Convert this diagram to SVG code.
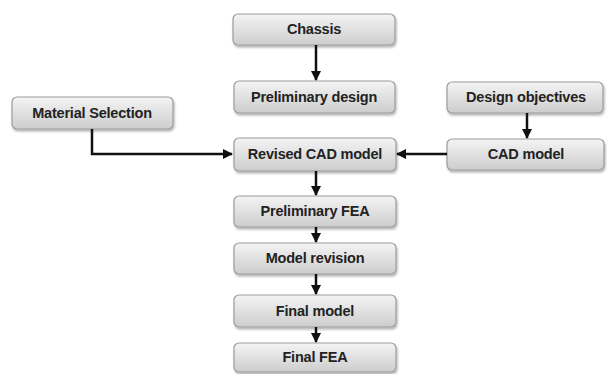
<svg xmlns="http://www.w3.org/2000/svg" width="607" height="374" viewBox="0 0 607 374">
<defs>
<linearGradient id="g" x1="0" y1="0" x2="0" y2="1">
<stop offset="0" stop-color="#f4f4f4"/>
<stop offset="1" stop-color="#cdcdcd"/>
</linearGradient>
<filter id="sh" x="-10%" y="-20%" width="120%" height="150%">
<feDropShadow dx="1" dy="2" stdDeviation="1.2" flood-color="#000" flood-opacity="0.3"/>
</filter>
<marker id="ah" markerWidth="10" markerHeight="10" refX="9" refY="5" orient="auto" markerUnits="userSpaceOnUse">
<path d="M0,0 L10,5 L0,10 Z" fill="#111"/>
</marker>
</defs>
<style>
.box{fill:url(#g);stroke:#9c9c9c;stroke-width:1.2;filter:url(#sh)}
.t{font-family:"Liberation Sans",Arial,sans-serif;font-weight:bold;font-size:14.5px;fill:#222;text-anchor:middle;letter-spacing:-0.2px}
.c{fill:none;stroke:#111;stroke-width:2.5;marker-end:url(#ah)}
</style>
<rect width="607" height="374" fill="#fff"/>
<g id="chassis"><rect class="box" x="233" y="14" width="162" height="31" rx="5"/><text class="t" x="314" y="34">Chassis</text></g>
<g id="preliminary-design"><rect class="box" x="234" y="81" width="161" height="32" rx="5"/><text class="t" x="314" y="102">Preliminary design</text></g>
<g id="material-selection"><rect class="box" x="12" y="97" width="161" height="32" rx="5"/><text class="t" x="92" y="118">Material Selection</text></g>
<g id="design-objectives"><rect class="box" x="447" y="82" width="156" height="31" rx="5"/><text class="t" x="526" y="102">Design objectives</text></g>
<g id="revised-cad-model"><rect class="box" x="234" y="138" width="162" height="33" rx="5"/><text class="t" x="315" y="159">Revised CAD model</text></g>
<g id="cad-model"><rect class="box" x="447" y="139" width="157" height="31" rx="5"/><text class="t" x="526" y="159">CAD model</text></g>
<g id="preliminary-fea"><rect class="box" x="234" y="196" width="162" height="31" rx="5"/><text class="t" x="315" y="216">Preliminary FEA</text></g>
<g id="model-revision"><rect class="box" x="234" y="243" width="162" height="31" rx="5"/><text class="t" x="315" y="263">Model revision</text></g>
<g id="final-model"><rect class="box" x="234" y="295" width="162" height="32" rx="5"/><text class="t" x="315" y="316">Final model</text></g>
<g id="final-fea"><rect class="box" x="234" y="343" width="162" height="29" rx="5"/><text class="t" x="315" y="362">Final FEA</text></g>
<g id="connectors">
<path class="c" d="M316,45 V80"/>
<path class="c" d="M92,129 V154 H232"/>
<path class="c" d="M447,154 H397"/>
<path class="c" d="M527,113 V138"/>
<path class="c" d="M316,171 V195"/>
<path class="c" d="M316,227 V242"/>
<path class="c" d="M316,274 V294"/>
<path class="c" d="M316,327 V342"/>
</g>
</svg>
